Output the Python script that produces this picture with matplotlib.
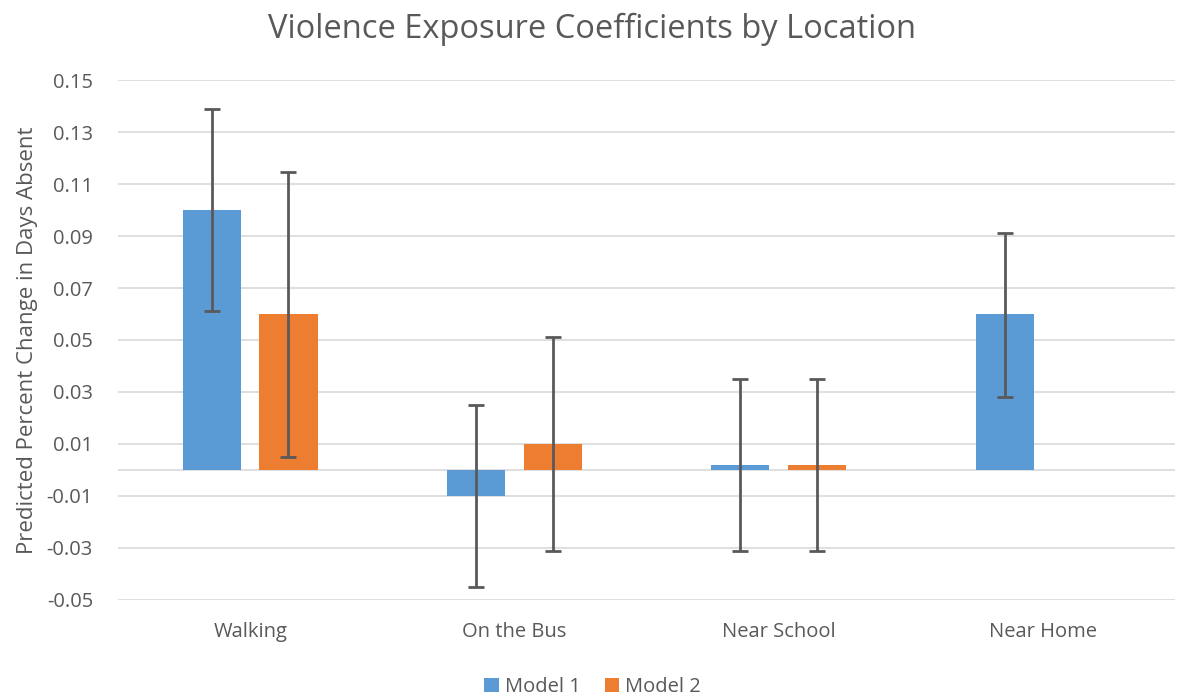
import numpy as np
import matplotlib.pyplot as plt

plt.rcParams['font.family'] = ['Open Sans', 'DejaVu Sans']

locations = ["Walking", "On the Bus", "Near School", "Near Home"]
model1 = [0.10, -0.01, 0.002, 0.06]
model1_lo = [0.061, -0.045, -0.031, 0.028]
model1_hi = [0.139, 0.025, 0.035, 0.091]
model2 = [0.06, 0.01, 0.002, np.nan]
model2_lo = [0.005, -0.031, -0.031, np.nan]
model2_hi = [0.1145, 0.051, 0.035, np.nan]

blue = '#5B9BD5'
orange = '#ED7D31'
grey = '#595959'

fig = plt.figure(figsize=(11.85, 6.96), dpi=100)
ax = fig.add_axes([0.0996, 0.138, 0.892, 0.747])

x = np.arange(len(locations))
w = 0.22
off = 0.145

m1 = np.array(model1)
m2 = np.array(model2)
err1 = [m1 - np.array(model1_lo), np.array(model1_hi) - m1]
err2 = [m2 - np.array(model2_lo), np.array(model2_hi) - m2]

ax.bar(x - off, m1, w, color=blue, label='Model 1', zorder=2)
ax.bar(x + off, np.nan_to_num(m2), w, color=orange, label='Model 2', zorder=2)
ax.errorbar(x - off, m1, yerr=err1, fmt='none', ecolor=grey, elinewidth=2,
            capsize=6, capthick=2, zorder=3)
ax.errorbar(x + off, m2, yerr=err2, fmt='none', ecolor=grey, elinewidth=2,
            capsize=6, capthick=2, zorder=3)

ax.set_xlim(-0.5, 3.5)
ax.set_ylim(-0.05, 0.15)
ax.set_yticks(np.arange(-0.05, 0.151, 0.02))
ax.set_yticklabels(['%.2f' % t for t in np.arange(-0.05, 0.151, 0.02)])
ax.set_xticks(x)
ax.set_xticklabels(locations)
ax.grid(axis='y', color='#D9D9D9', linewidth=1.2, zorder=0)
ax.axhline(0, color='#D9D9D9', linewidth=1.2, zorder=1)
for s in ax.spines.values():
    s.set_visible(False)
ax.tick_params(length=0, labelsize=14.5, colors=grey)
ax.tick_params(axis='y', pad=18)
ax.tick_params(axis='x', pad=16)

ax.set_ylabel('Predicted Percent Change in Days Absent', fontsize=16,
              color=grey, labelpad=6)
fig.suptitle('Violence Exposure Coefficients by Location', fontsize=23.5,
             color=grey, y=0.982)

leg = fig.legend(loc='lower center', ncol=2, frameon=False, fontsize=14.5,
                 bbox_to_anchor=(0.5, -0.027), handlelength=0.7,
                 handleheight=0.7, handletextpad=0.3, columnspacing=1.2)
for t in leg.get_texts():
    t.set_color(grey)

fig.savefig('out.png', dpi=100)
